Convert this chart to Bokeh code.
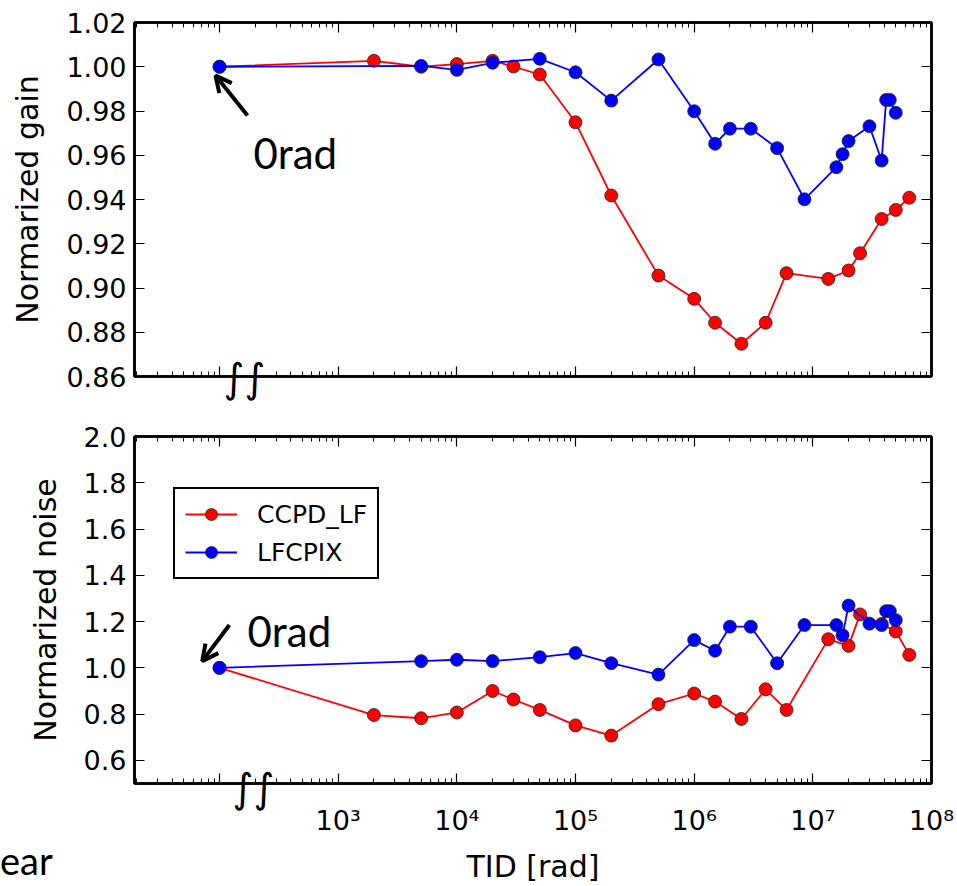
from bokeh.plotting import figure
from bokeh.layouts import column
from bokeh.models import (FixedTicker, LogAxis, LinearAxis, Label, Arrow, OpenHead,
                          Legend, LegendItem, Div)
from bokeh.embed import file_html
from bokeh.resources import INLINE

# ---------------- data ----------------
x_red = [1e2, 2e3, 5e3, 1e4, 2e4, 3e4, 5e4, 1e5, 2e5, 5e5, 1e6, 1.5e6, 2.5e6, 4e6, 6e6,
         1.35e7, 2e7, 2.5e7, 3.8e7, 5e7, 6.5e7]
gain_red = [1.000, 1.0027, 1.000, 1.0012, 1.0027, 1.0001, 0.9965, 0.9749, 0.9418, 0.9056,
            0.8951, 0.8843, 0.8748, 0.8843, 0.9067, 0.9041, 0.9079, 0.9157, 0.9312, 0.9353, 0.9408]
noise_red = [1.000, 0.796, 0.782, 0.807, 0.900, 0.863, 0.818, 0.751, 0.707, 0.843,
             0.889, 0.854, 0.779, 0.907, 0.818, 1.124, 1.095, 1.231, 1.19, 1.157, 1.056]

x_blue = [1e2, 5e3, 1e4, 2e4, 5e4, 1e5, 2e5, 5e5, 1e6, 1.5e6, 2e6, 3e6, 5e6, 8.5e6,
          1.58e7, 1.78e7, 2e7, 3e7, 3.8e7, 4.15e7, 4.45e7, 5e7]
gain_blue = [1.000, 1.0004, 0.9986, 1.0018, 1.0036, 0.9975, 0.9847, 1.0033, 0.9799, 0.9652,
             0.972, 0.972, 0.9632, 0.9401, 0.9546, 0.9605, 0.9664, 0.9731, 0.9576, 0.985, 0.985, 0.9792]
noise_blue = [1.000, 1.029, 1.035, 1.029, 1.046, 1.064, 1.020, 0.971, 1.120, 1.074,
              1.178, 1.178, 1.020, 1.185, 1.185, 1.141, 1.269, 1.191, 1.185, 1.245, 1.245, 1.206]

series_names = ["CCPD_LF", "LFCPIX"]
series_colors = ["#ff0000", "#0000ff"]

x_tick_values = [1e2, 1e3, 1e4, 1e5, 1e6, 1e7, 1e8]
x_tick_labels = ["", "10³", "10⁴", "10⁵", "10⁶", "10⁷", "10⁸"]
x_minor_ticks = [k * 10.0 ** d for d in range(1, 8) for k in range(2, 10)]

gain_tick_values = [0.86, 0.88, 0.90, 0.92, 0.94, 0.96, 0.98, 1.00, 1.02]
gain_tick_labels = ["0.86", "0.88", "0.90", "0.92", "0.94", "0.96", "0.98", "1.00", "1.02"]
noise_tick_values = [0.6, 0.8, 1.0, 1.2, 1.4, 1.6, 1.8, 2.0]
noise_tick_labels = ["0.6", "0.8", "1.0", "1.2", "1.4", "1.6", "1.8", "2.0"]

x_range = (19.2, 1e8)
gain_range = (0.86, 1.02)
noise_range = (0.5, 2.0)

# annotation anchors (data coordinates)
gain_arrow = dict(x_start=172, y_start=0.978, x_end=92.5, y_end=0.996)
gain_note = dict(x=193, y=0.9608)
gain_break_x = 162
noise_arrow = dict(x_start=121, y_start=1.185, x_end=71.5, y_end=1.029)
noise_note = dict(x=172, y=1.158)
noise_break_x = 193
break_text = "∫∫"

TICK_FONT = "DejaVu Sans"
TICK_SIZE = "27px"
LABEL_SIZE = "30px"


def bare_axis(ax):
    ax.axis_line_color = None
    ax.major_tick_line_color = None
    ax.minor_tick_line_color = None
    ax.major_tick_in = 0
    ax.major_tick_out = 0
    ax.minor_tick_in = 0
    ax.minor_tick_out = 0


def style_axes(p, ylabel, ytick_values, ytick_labels, break_x, break_standoff,
               xlabel=None, xlabel_standoff=0):
    xt = FixedTicker(ticks=x_tick_values, minor_ticks=x_minor_ticks)
    yt = FixedTicker(ticks=ytick_values, minor_ticks=[])
    xa = p.xaxis[0]
    xa.ticker = xt
    xa.major_label_overrides = {v: "" for v in x_tick_values}
    ya = p.yaxis[0]
    ya.ticker = yt
    ya.major_label_overrides = dict(zip(ytick_values, ytick_labels))
    xtop = LogAxis(ticker=xt, major_label_overrides={v: "" for v in x_tick_values})
    yright = LinearAxis(ticker=yt, major_label_overrides={v: "" for v in ytick_values})
    p.add_layout(xtop, "above")
    p.add_layout(yright, "right")
    for ax in [xa, ya, xtop, yright]:
        ax.axis_line_color = "black"
        ax.axis_line_width = 2.5
        ax.major_tick_in = 10
        ax.major_tick_out = 0
        ax.minor_tick_in = 5
        ax.minor_tick_out = 0
        ax.major_tick_line_color = "black"
        ax.major_tick_line_width = 1.2
        ax.minor_tick_line_color = "black"
        ax.minor_tick_line_width = 1.0
        ax.major_label_text_font = TICK_FONT
        ax.major_label_text_font_size = TICK_SIZE
        ax.major_label_text_color = "black"
    for ax in [ya, yright]:
        ax.minor_tick_line_color = None
    for ax in [xtop, yright, xa]:
        ax.major_label_standoff = 0
    xa.major_label_text_font_size = "1px"
    ya.major_label_standoff = 8
    ya.axis_label = ylabel
    ya.axis_label_standoff = 18
    ya.axis_label_text_font = TICK_FONT
    ya.axis_label_text_font_size = LABEL_SIZE
    ya.axis_label_text_font_style = "normal"
    ya.axis_label_text_color = "black"

    # axis-break marks drawn as a tick label straddling the bottom spine
    xbreak = LogAxis(ticker=FixedTicker(ticks=[break_x], minor_ticks=[]),
                     major_label_overrides={break_x: break_text},
                     major_label_text_font="DejaVu Sans", major_label_text_font_size="40px",
                     major_label_text_color="black", major_label_standoff=break_standoff)
    bare_axis(xbreak)
    p.add_layout(xbreak, "below")

    if xlabel is not None:
        xlab = LogAxis(ticker=xt, major_label_overrides=dict(zip(x_tick_values, x_tick_labels)),
                       major_label_text_font=TICK_FONT, major_label_text_font_size=TICK_SIZE,
                       major_label_text_color="black", major_label_standoff=xlabel_standoff,
                       axis_label=xlabel, axis_label_standoff=10,
                       axis_label_text_font=TICK_FONT, axis_label_text_font_size=LABEL_SIZE,
                       axis_label_text_font_style="normal", axis_label_text_color="black")
        bare_axis(xlab)
        p.add_layout(xlab, "below")

    p.xgrid.visible = False
    p.ygrid.visible = False
    p.outline_line_color = "black"
    p.outline_line_width = 2.5


def add_series(p, xs, ys, color):
    ln = p.line(xs, ys, line_color=color, line_width=1.8)
    sc = p.scatter(xs, ys, size=13, fill_color=color, line_color="#222222",
                   line_width=1.0, line_alpha=0.8)
    return ln, sc


def add_notes(p, arrow, note):
    p.add_layout(Arrow(end=OpenHead(size=16, line_width=4, line_color="black"),
                       line_width=4, line_color="black", **arrow))
    p.add_layout(Label(text="0rad", text_font="Lato", text_font_size="42px",
                       text_color="black", text_baseline="alphabetic", **note))


# ---------------- top: gain ----------------
p1 = figure(width=957, height=408, x_axis_type="log", x_range=x_range, y_range=gain_range,
            output_backend="svg", toolbar_location=None,
            min_border_left=134, min_border_right=26, min_border_top=22, min_border_bottom=32)
add_series(p1, x_red, gain_red, series_colors[0])
add_series(p1, x_blue, gain_blue, series_colors[1])
style_axes(p1, "Normarized gain", gain_tick_values, gain_tick_labels, gain_break_x, -22)
add_notes(p1, gain_arrow, gain_note)

# ---------------- bottom: noise ----------------
p2 = figure(width=957, height=478, x_axis_type="log", x_range=x_range, y_range=noise_range,
            output_backend="svg", toolbar_location=None,
            min_border_left=134, min_border_right=26, min_border_top=28, min_border_bottom=96)
r_ln, r_sc = add_series(p2, x_red, noise_red, series_colors[0])
b_ln, b_sc = add_series(p2, x_blue, noise_blue, series_colors[1])
style_axes(p2, "Normarized noise", noise_tick_values, noise_tick_labels, noise_break_x, -19,
           "TID [rad]", -9)
add_notes(p2, noise_arrow, noise_note)

legend = Legend(items=[LegendItem(label=series_names[0], renderers=[r_ln, r_sc]),
                       LegendItem(label=series_names[1], renderers=[b_ln, b_sc])],
                location=(39, 204), margin=0, padding=10, spacing=8,
                glyph_width=52, glyph_height=30, label_height=30, label_standoff=20,
                label_text_font=TICK_FONT, label_text_font_size="25px",
                label_text_color="black",
                border_line_color="black", border_line_width=2.5, border_line_alpha=1.0,
                background_fill_color="white", background_fill_alpha=1.0)
p2.add_layout(legend)

# fragment of a caption that the source picture cuts at its lower-left edge
caption = Div(text='<span style="font-family:Lato;font-size:38px;line-height:48px;'
                   'color:black;white-space:nowrap">ear</span>',
              width=70, height=50, margin=(-50, 0, 0, 0))

layout = column(p1, p2, caption, spacing=0)
open("out.html", "w").write(file_html(layout, INLINE))
